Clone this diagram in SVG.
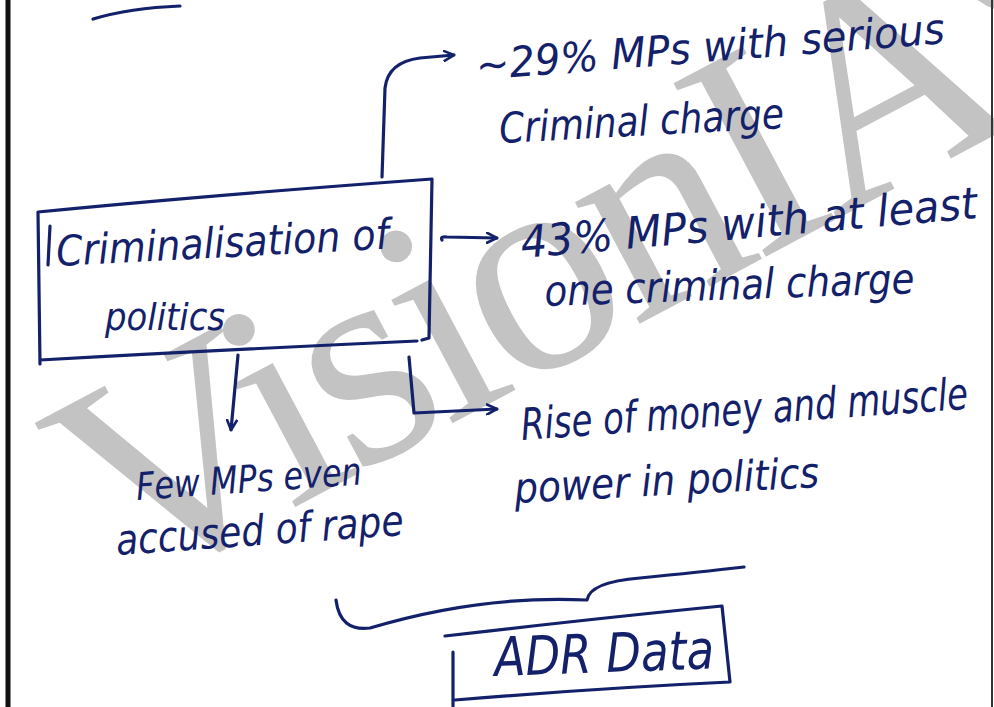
<svg xmlns="http://www.w3.org/2000/svg" width="994" height="707" viewBox="0 0 994 707">
<style>
.ink{fill:none;stroke:#13206a;stroke-width:3.2;stroke-linecap:round;stroke-linejoin:round}
.hw{fill:#13206a;font-family:"DejaVu Sans","Liberation Sans",sans-serif;font-style:oblique}
.wm{fill:#c3c3c3;font-family:"Liberation Serif","Times New Roman",serif;font-size:300px}
</style>
<defs>
<marker id="ah" viewBox="0 0 12 12" refX="11" refY="6" markerWidth="12" markerHeight="12" markerUnits="userSpaceOnUse" orient="auto">
<path d="M1,1 L11,6 L1,11" fill="none" stroke="#13206a" stroke-width="2.6" stroke-linecap="round"/>
</marker>
</defs>
<rect width="994" height="707" fill="#ffffff"/>
<g id="watermark">
<text class="wm" transform="translate(124,598) rotate(-28)" letter-spacing="-11">VisionIAS</text>
</g>
<g id="page">
<line x1="8" y1="0" x2="8" y2="707" stroke="#111" stroke-width="5"/>
<line x1="992" y1="0" x2="992" y2="707" stroke="#333" stroke-width="2"/>
<path class="ink" d="M93,19 Q130,8 180,6"/>
</g>
<g id="node-main">
<path class="ink" d="M38,212 Q200,196 432,179 L429,338 L422,340 M38,212 L40,364 M40,360 Q220,350 417,341"/>
<line class="ink" x1="50" y1="226" x2="48" y2="265"/>
<text class="hw" font-size="42" x="57" y="266" textLength="333" lengthAdjust="spacingAndGlyphs" transform="rotate(-3 57 266)">Criminalisation of</text>
<text class="hw" font-size="38" x="105" y="330" textLength="120" lengthAdjust="spacingAndGlyphs">politics</text>
</g>
<g id="node-serious">
<text class="hw" font-size="42" x="477" y="80" textLength="470" lengthAdjust="spacingAndGlyphs" transform="rotate(-4.5 477 80)">~29% MPs with serious</text>
<text class="hw" font-size="42" x="500" y="143" textLength="285" lengthAdjust="spacingAndGlyphs" transform="rotate(-3 500 143)">Criminal charge</text>
</g>
<g id="node-atleast">
<text class="hw" font-size="44" x="522" y="258" textLength="458" lengthAdjust="spacingAndGlyphs" transform="rotate(-5 522 258)">43% MPs with at least</text>
<text class="hw" font-size="42" x="545" y="306" textLength="370" lengthAdjust="spacingAndGlyphs" transform="rotate(-2 545 306)">one criminal charge</text>
</g>
<g id="node-money">
<text class="hw" font-size="44" x="522" y="440" textLength="448" lengthAdjust="spacingAndGlyphs" transform="rotate(-4 522 440)">Rise of money and muscle</text>
<text class="hw" font-size="42" x="515" y="503" textLength="305" lengthAdjust="spacingAndGlyphs" transform="rotate(-3 515 503)">power in politics</text>
</g>
<g id="node-rape">
<text class="hw" font-size="38" x="137" y="500" textLength="226" lengthAdjust="spacingAndGlyphs" transform="rotate(-4 137 500)">Few MPs even</text>
<text class="hw" font-size="42" x="117" y="555" textLength="288" lengthAdjust="spacingAndGlyphs" transform="rotate(-4 117 555)">accused of rape</text>
</g>
<g id="node-adr">
<path class="ink" d="M445,636 Q600,618 722,606 L730,682 M453,652 L453,706 M455,700 Q600,688 730,682"/>
<text class="hw" font-size="54" x="495" y="676" textLength="220" lengthAdjust="spacingAndGlyphs" transform="rotate(-2 495 676)">ADR Data</text>
</g>
<g id="connectors">
<path class="ink" d="M382,177 L385,88 Q388,62 420,58 L454,55" marker-end="url(#ah)"/>
<path class="ink" d="M442,240 Q440,236 447,237 L497,238" marker-end="url(#ah)"/>
<path class="ink" d="M238,355 L231,430" marker-end="url(#ah)"/>
<path class="ink" d="M409,357 L414,413 L497,409" marker-end="url(#ah)"/>
<path class="ink" d="M336,600 Q340,632 370,628 Q480,595 587,600 Q590,582 640,578 Q700,572 744,567"/>
</g>
</svg>
